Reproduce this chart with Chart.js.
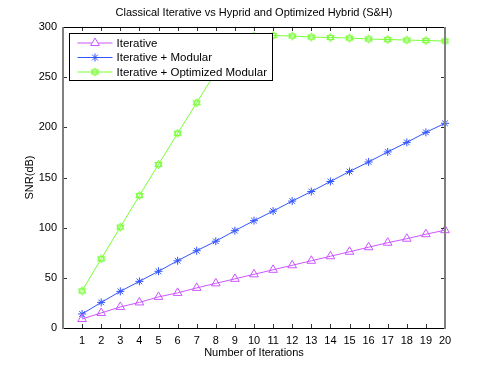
<!DOCTYPE html>
<html>
<head>
<meta charset="utf-8">
<script src="https://cdn.jsdelivr.net/npm/chart.js"></script>
<style>
body { margin: 0; background: #fff; }
canvas { display: block; }
</style>
</head>
<body>
<canvas id="snrChart" width="491" height="369"></canvas>
<script>
// Data
var iterations = [1, 2, 3, 4, 5, 6, 7, 8, 9, 10, 11, 12, 13, 14, 15, 16, 17, 18, 19, 20];
var iterative = [9, 15, 21, 25.5, 31, 35, 40, 44.5, 49, 53.5, 58, 62.5, 67, 71.5, 76, 80.5, 85, 89, 93.5, 97.5];
var iterModular = [14, 25.5, 36.5, 46.5, 56.5, 67, 77, 86.5, 97, 107, 116.5, 126.5, 136, 146, 156, 165.5, 175.5, 185, 195, 204];
var iterOptModular = [37, 69, 100.5, 132, 163, 194, 224.5, 255, 284, 291, 291.5, 291, 290, 289.5, 289, 288, 287.5, 287, 286.5, 286];
var seriesNames = ["Iterative", "Iterative + Modular", "Iterative + Optimized Modular"];

var FONT = "'Liberation Sans', Arial, sans-serif";

// hexagram marker (MATLAB 'h')
function makeHexagram(color) {
    var c = document.createElement('canvas');
    c.width = 11; c.height = 11;
    var g = c.getContext('2d');
    g.strokeStyle = color;
    g.lineWidth = 1;
    [-90, 90].forEach(function (start) {
        g.beginPath();
        for (var k = 0; k < 3; k++) {
            var a = (start + k * 120) * Math.PI / 180;
            var px = 5.5 + 4.2 * Math.cos(a), py = 5.5 + 4.2 * Math.sin(a);
            if (k) g.lineTo(px, py); else g.moveTo(px, py);
        }
        g.closePath();
        g.stroke();
    });
    return c;
}

function toPoints(vals) {
    return iterations.map(function (x, i) { return { x: x, y: vals[i] }; });
}

var colors = ['#cc55ff', '#3355ff', '#77ff33'];
var hexagram = makeHexagram(colors[2]);

// box, inward ticks and legend like MATLAB
var matlabFrame = {
    id: 'matlabFrame',
    afterDraw: function (chart) {
        var ctx = chart.ctx, a = chart.chartArea;
        var xs = chart.scales.x, ys = chart.scales.y;
        ctx.save();
        // ticks
        ctx.strokeStyle = '#333';
        ctx.lineWidth = 1;
        ctx.beginPath();
        xs.ticks.forEach(function (t) {
            var px = Math.round(xs.getPixelForValue(t.value)) + 0.5;
            ctx.moveTo(px, a.bottom); ctx.lineTo(px, a.bottom - 4);
            ctx.moveTo(px, a.top); ctx.lineTo(px, a.top + 4);
        });
        ys.ticks.forEach(function (t) {
            var py = Math.round(ys.getPixelForValue(t.value)) + 0.5;
            ctx.moveTo(a.left, py); ctx.lineTo(a.left + 4, py);
            ctx.moveTo(a.right, py); ctx.lineTo(a.right - 4, py);
        });
        ctx.stroke();
        // box
        ctx.strokeStyle = '#000';
        ctx.beginPath();
        ctx.moveTo(a.left, Math.round(a.top) + 0.5); ctx.lineTo(a.right, Math.round(a.top) + 0.5);
        ctx.moveTo(a.left, Math.round(a.bottom) + 0.5); ctx.lineTo(a.right, Math.round(a.bottom) + 0.5);
        ctx.stroke();
        ctx.strokeStyle = '#808080';
        ctx.lineWidth = 2;
        ctx.beginPath();
        ctx.moveTo(a.left, a.top); ctx.lineTo(a.left, a.bottom + 1);
        ctx.moveTo(a.right, a.top); ctx.lineTo(a.right, a.bottom + 1);
        ctx.stroke();

        // legend
        var bx = a.left + 6.5, by = a.top + 6.5, bw = 203, bh = 47;
        ctx.fillStyle = '#fff';
        ctx.fillRect(bx, by, bw, bh);
        ctx.strokeStyle = '#000';
        ctx.lineWidth = 1;
        ctx.strokeRect(bx, by, bw, bh);
        ctx.font = '11.5px ' + FONT;
        ctx.textBaseline = 'middle';
        ctx.textAlign = 'left';
        chart.data.datasets.forEach(function (ds, i) {
            var ry = by + 9.5 + i * 14.5;
            ctx.strokeStyle = ds.borderColor;
            ctx.lineWidth = 1;
            ctx.beginPath();
            ctx.moveTo(bx + 8, ry); ctx.lineTo(bx + 43, ry);
            ctx.stroke();
            Chart.helpers.drawPoint(ctx, {
                pointStyle: ds.pointStyle, radius: ds.pointRadius, borderWidth: 1, rotation: 0
            }, bx + 25.5, ry);
            ctx.fillStyle = '#000';
            ctx.fillText(ds.label, bx + 47, ry + 0.5);
        });
        ctx.restore();
    }
};

var snrChart = new Chart(document.getElementById('snrChart').getContext('2d'), {
    type: 'line',
    data: {
        datasets: [{
            label: seriesNames[0],
            data: toPoints(iterative),
            borderColor: colors[0],
            backgroundColor: 'rgba(0,0,0,0)',
            pointStyle: 'triangle',
            pointRadius: 5,
            pointBorderWidth: 1,
            borderWidth: 1,
            clip: false
        }, {
            label: seriesNames[1],
            data: toPoints(iterModular),
            borderColor: colors[1],
            backgroundColor: 'rgba(0,0,0,0)',
            pointStyle: 'star',
            pointRadius: 4,
            pointBorderWidth: 1,
            borderWidth: 1,
            clip: false
        }, {
            label: seriesNames[2],
            data: toPoints(iterOptModular),
            borderColor: colors[2],
            backgroundColor: 'rgba(0,0,0,0)',
            pointStyle: hexagram,
            pointRadius: 5,
            borderWidth: 1,
            clip: false
        }]
    },
    options: {
        responsive: false,
        animation: false,
        layout: { padding: { left: 23, right: 46, top: 0, bottom: 0 } },
        plugins: {
            legend: { display: false },
            tooltip: { enabled: false },
            title: {
                display: true,
                fullSize: false,
                text: 'Classical Iterative vs Hyprid and Optimized Hybrid (S&H)',
                color: '#000',
                font: { family: FONT, size: 11, weight: 'normal' },
                padding: { top: 6.5, bottom: 7.3 }
            }
        },
        scales: {
            x: {
                type: 'linear',
                min: 0,
                max: 20,
                grid: { display: false, drawTicks: false },
                border: { display: false },
                ticks: {
                    stepSize: 1,
                    autoSkip: false,
                    maxRotation: 0,
                    padding: 6,
                    color: '#000',
                    font: { family: FONT, size: 11 },
                    callback: function (v) { return v === 0 ? '' : v; }
                },
                title: {
                    display: true,
                    text: 'Number of Iterations',
                    color: '#000',
                    font: { family: FONT, size: 11 },
                    padding: { top: 0, bottom: 9 }
                },
                afterFit: function (s) { s.height = 41; }
            },
            y: {
                min: 0,
                max: 300,
                grid: { display: false, drawTicks: false },
                border: { display: false },
                ticks: {
                    stepSize: 50,
                    padding: 6,
                    color: '#000',
                    font: { family: FONT, size: 11 }
                },
                title: {
                    display: true,
                    text: 'SNR(dB)',
                    color: '#000',
                    font: { family: FONT, size: 11 },
                    padding: 0
                },
                afterFit: function (s) { s.width = 40; }
            }
        }
    },
    plugins: [matlabFrame]
});
</script>
</body>
</html>
